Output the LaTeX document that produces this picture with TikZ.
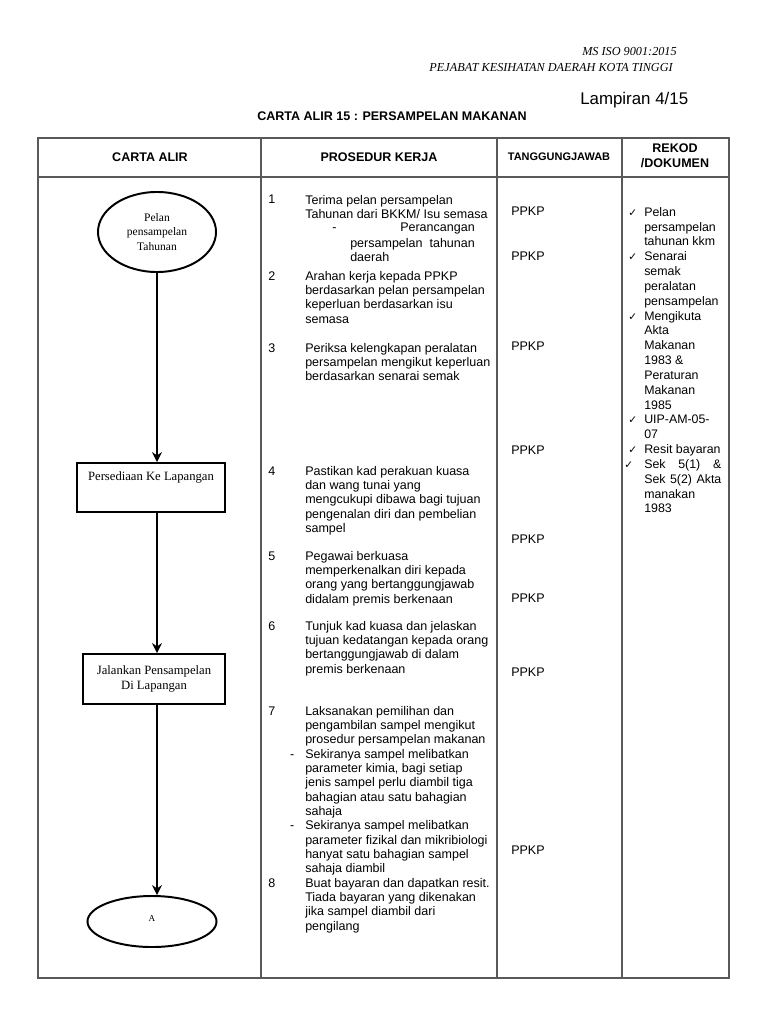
\documentclass[tikz,border=0pt]{standalone}
\usepackage{fontspec}
\setmainfont{Liberation Serif}
\setsansfont{Liberation Sans}
\newfontfamily\ckfont{DejaVu Sans}
\usetikzlibrary{arrows.meta, positioning, shapes.geometric}

\newcommand{\ck}{{\ckfont\fontsize{7.5}{9}\selectfont ✓}}
\newcommand{\cki}{\llap{\ck\hspace{5pt}}}
\newcommand{\dsh}{\llap{-\hspace{7.8pt}}}

\begin{document}
\begin{tikzpicture}[x=0.025cm, y=-0.025cm,
    grid/.style={draw=black!65, line width=0.9pt},
    hd/.style={font=\sffamily\bfseries\fontsize{8.9}{10.7}\selectfont, align=center, inner sep=0},
    proc/.style={font=\sffamily\fontsize{8.9}{10.17}\selectfont, align=left, anchor=north west, inner sep=0},
    num/.style={font=\sffamily\fontsize{8.9}{10.17}\selectfont, anchor=base west, inner sep=0},
    who/.style={font=\sffamily\fontsize{8.9}{10.17}\selectfont, anchor=base west, inner sep=0},
    term/.style={ellipse, draw, line width=1.4pt, inner sep=0, align=center},
    procbox/.style={rectangle, draw, line width=1.4pt, inner xsep=2pt, inner ysep=0, align=center, font=\fontsize{9}{10.7}\selectfont},
    flow/.style={-{Stealth[length=7pt, width=7pt]}, line width=1.4pt}]
  \useasboundingbox (0,0) rectangle (768,1024);
  % page header
  \node[font=\itshape\fontsize{8.7}{10}\selectfont, anchor=base east, inner sep=0] (iso) at (677,56) {MS ISO 9001:2015};
  \node[font=\itshape\fontsize{8.7}{10}\selectfont, anchor=base east, inner sep=0] (pkd) at (673,72) {PEJABAT KESIHATAN DAERAH KOTA TINGGI};
  \node[font=\sffamily\fontsize{12}{14}\selectfont, anchor=base west, inner sep=0] (lamp) at (580,105) {Lampiran 4/15};
  \node[hd] (title) at (392,116) {CARTA ALIR 15 : PERSAMPELAN MAKANAN};
  % table frame
  \draw[grid, line width=1.4pt] (38,138) rectangle (729,978);
  \draw[grid] (38,177) -- (729,177);
  \foreach \cx in {261,497,622} \draw[grid] (\cx,138) -- (\cx,978);
  \node[hd] (h1) at (150,157) {CARTA ALIR};
  \node[hd] (h2) at (379,157) {PROSEDUR KERJA};
  \node[hd, font=\sffamily\bfseries\fontsize{7.8}{9}\selectfont] (h3) at (559,157) {TANGGUNGJAWAB};
  \node[hd] (h4) at (675,155.5) {REKOD\\/DOKUMEN};
  % flow chart
  \node[term, minimum width=2.95cm, minimum height=2cm, font=\fontsize{8.2}{10}\selectfont] (start) at (157,232) {Pelan\\pensampelan\\Tahunan};
  \node[procbox, minimum width=3.7cm, text height=12.1pt, text depth=22.75pt] (prep) at (151,487.5) {Persediaan Ke Lapangan};
  \node[procbox, minimum width=3.55cm, minimum height=1.25cm] (run) at (154,679) {Jalankan Pensampelan\\Di Lapangan};
  \node[term, minimum width=3.225cm, minimum height=1.275cm, font=\fontsize{6.5}{8}\selectfont, text depth=4pt] (endA) at (152,921.5) {A};
  \draw[flow] (start.south) -- (start.south |- prep.north);
  \draw[flow] (start.south |- prep.south) -- (start.south |- run.north);
  \draw[flow] (start.south |- run.south) -- (start.south |- endA.north);
  % prosedur kerja
  \node[num] (n1) at (268,204) {1};
  \node[proc] (p1) at (305,194) {\strut Terima pelan persampelan\\Tahunan dari BKKM/ Isu semasa};
  \node[num] (p1d) at (332,232) {-};
  \node[num, anchor=base east] (p1a) at (475,232) {Perancangan};
  \node[proc] (p1b) at (350,237) {\strut persampelan\ \ tahunan\\daerah};
  \node[num] (n2) at (268,280) {2};
  \node[proc] (p2) at (305,270) {\strut Arahan kerja kepada PPKP\\berdasarkan pelan persampelan\\keperluan berdasarkan isu\\semasa};
  \node[num] (n3) at (268,352) {3};
  \node[proc] (p3) at (305,342) {\strut Periksa kelengkapan peralatan\\persampelan mengikut keperluan\\berdasarkan senarai semak};
  \node[num] (n4) at (268,475) {4};
  \node[proc] (p4) at (305,465) {\strut Pastikan kad perakuan kuasa\\dan wang tunai yang\\mengcukupi dibawa bagi tujuan\\pengenalan diri dan pembelian\\sampel};
  \node[num] (n5) at (268,560) {5};
  \node[proc] (p5) at (305,550) {\strut Pegawai berkuasa\\memperkenalkan diri kepada\\orang yang bertanggungjawab\\didalam premis berkenaan};
  \node[num] (n6) at (268,630) {6};
  \node[proc] (p6) at (305,620) {\strut Tunjuk kad kuasa dan jelaskan\\tujuan kedatangan kepada orang\\bertanggungjawab di dalam\\premis berkenaan};
  \node[num] (n7) at (268,715) {7};
  \node[proc] (p7) at (305,705) {\strut Laksanakan pemilihan dan\\pengambilan sampel mengikut\\prosedur persampelan makanan\\\dsh Sekiranya sampel melibatkan\\parameter kimia, bagi setiap\\jenis sampel perlu diambil tiga\\bahagian atau satu bahagian\\sahaja\\\dsh Sekiranya sampel melibatkan\\parameter fizikal dan mikribiologi\\hanyat satu bahagian sampel\\sahaja diambil};
  \node[num] (n8) at (268,887) {8};
  \node[proc] (p8) at (305,877) {\strut Buat bayaran dan dapatkan resit.\\Tiada bayaran yang dikenakan\\jika sampel diambil dari\\pengilang};
  % tanggungjawab
  \foreach \wy [count=\wi] in {216,260,350,454,543,602,676,854}
    \node[who] (w\wi) at (511,\wy) {PPKP};
  % rekod / dokumen
  \node[proc, font=\sffamily\fontsize{8.8}{10.55}\selectfont] (rek) at (644,205.6) {\strut\cki Pelan\\persampelan\\tahunan kkm\\\cki Senarai\\semak\\peralatan\\pensampelan\\\cki Mengikuta\\Akta\\Makanan\\1983 \&\\Peraturan\\Makanan\\1985\\\cki UIP-AM-05-\\07\\\cki Resit bayaran\\\llap{\ck\hspace{7.8pt}}\makebox[54.8pt][s]{Sek 5(1) \&}\\\makebox[54.8pt][s]{Sek 5(2) Akta}\\manakan\\1983};
\end{tikzpicture}
\end{document}
